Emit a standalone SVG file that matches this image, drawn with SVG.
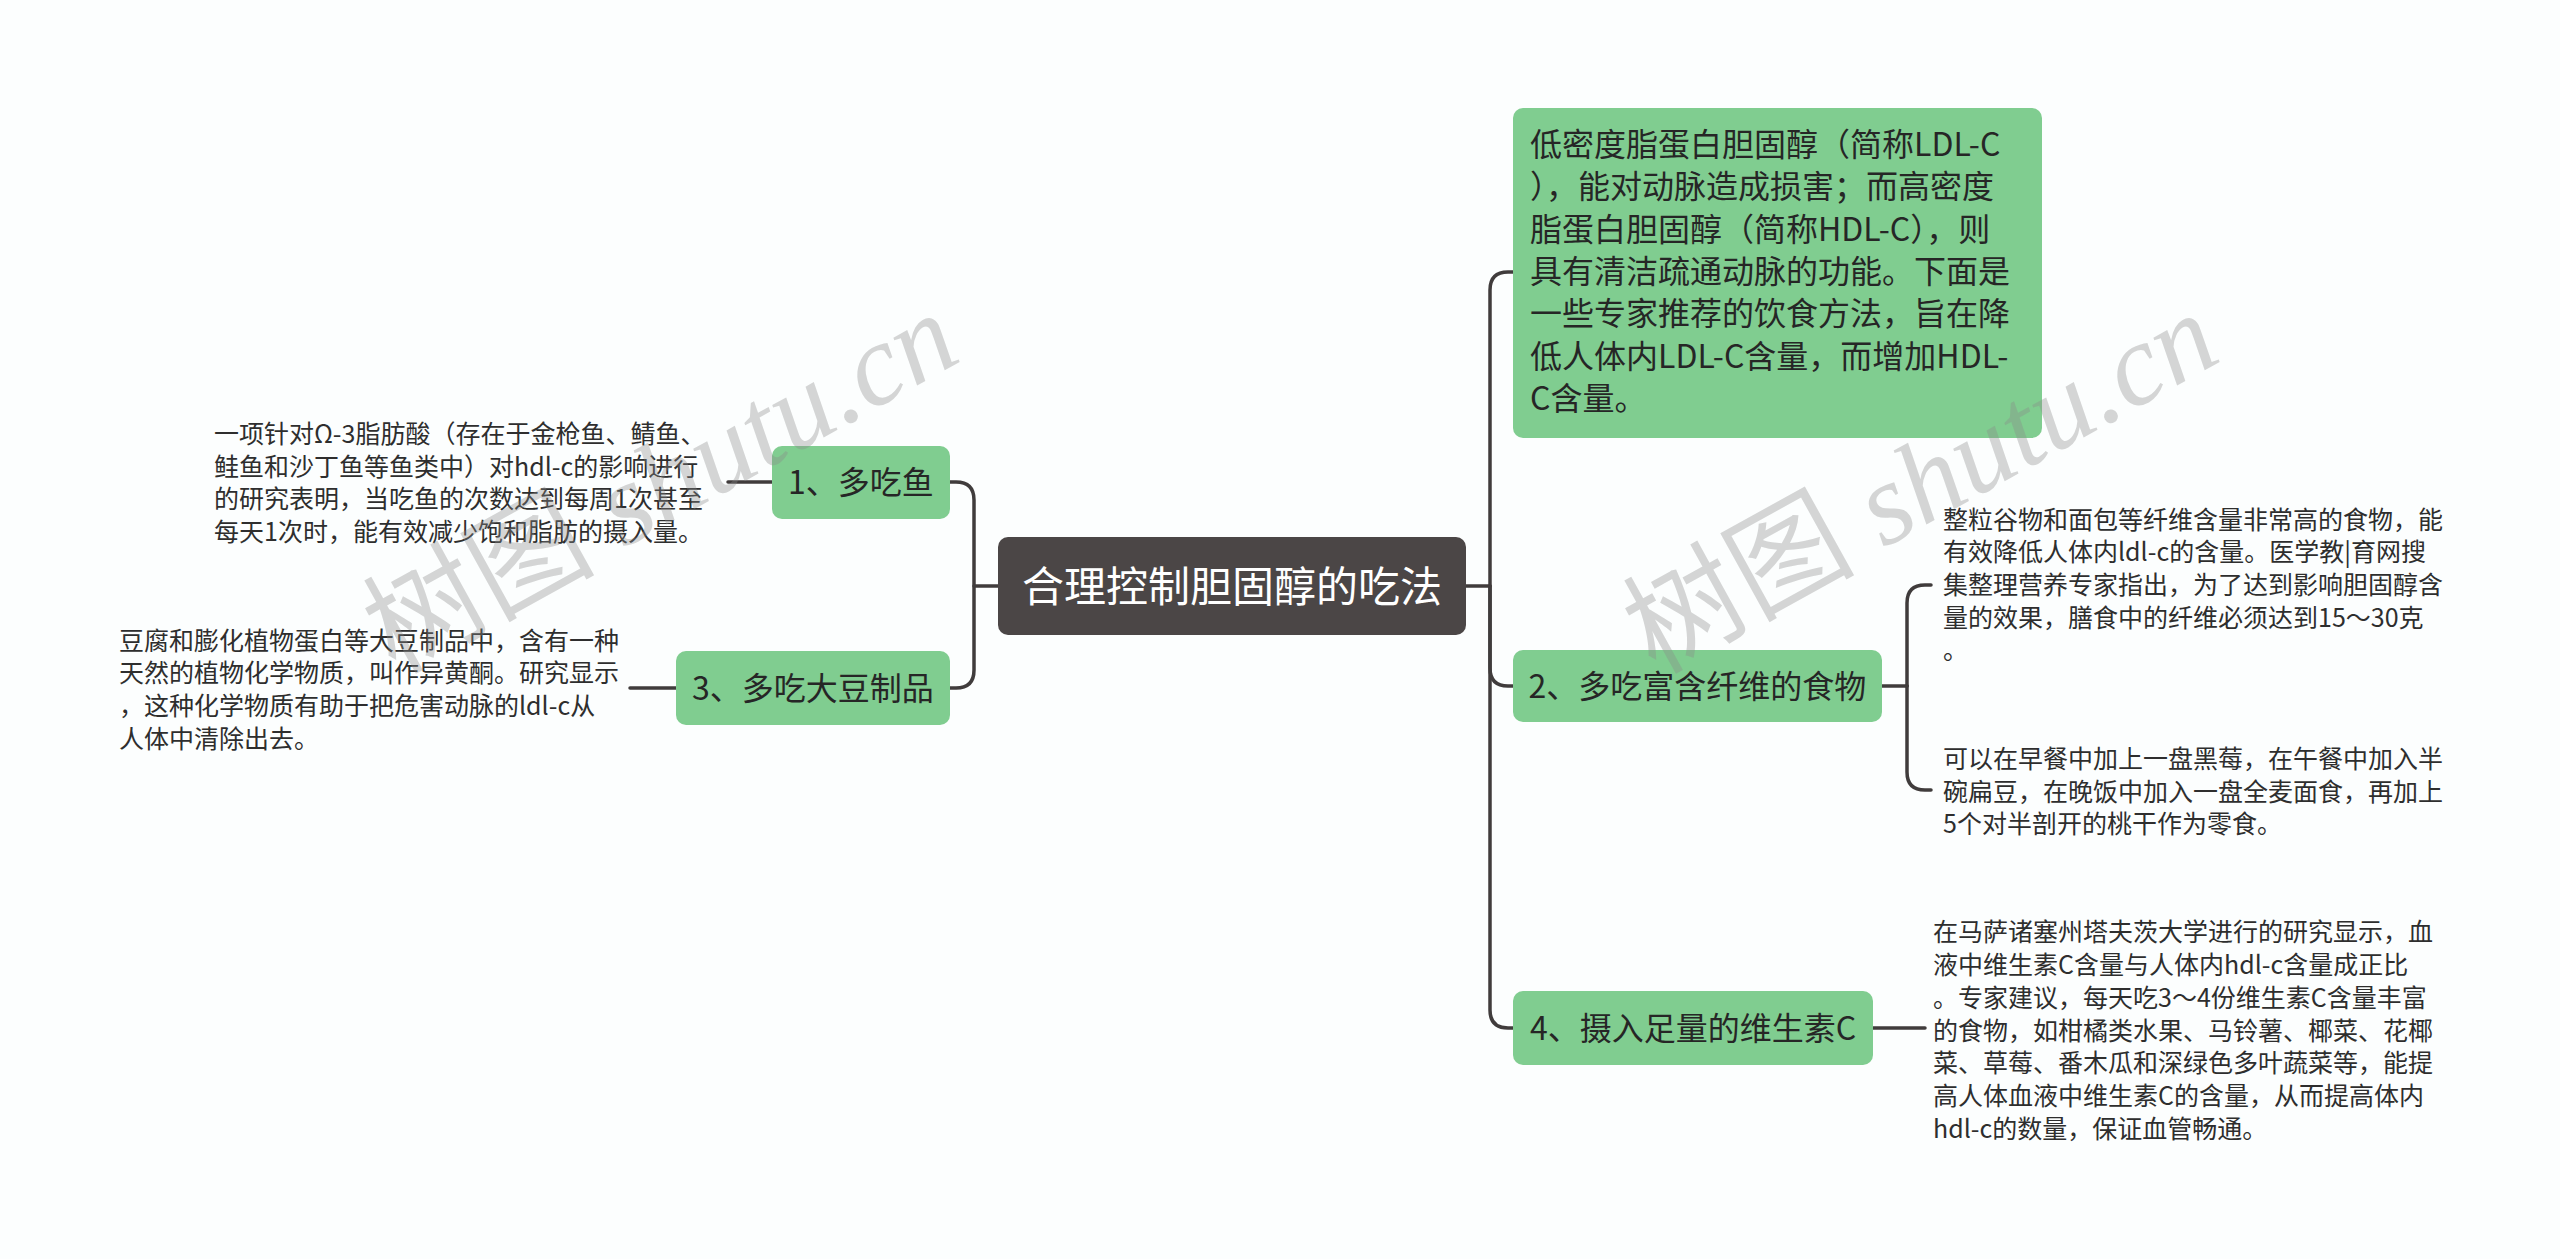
<svg xmlns="http://www.w3.org/2000/svg" width="2560" height="1259" viewBox="0 0 2560 1259">
<style>
.bg{fill:#fcfefe}
.root{fill:#4b4646}
.n1{fill:#80cd90}
.rt{font-family:"Noto Sans CJK SC","Liberation Sans",sans-serif;font-size:42px;fill:#ffffff}
.t1{font-family:"Noto Sans CJK SC","Liberation Sans",sans-serif;font-size:32px;fill:#262626}
.lf{font-family:"Noto Sans CJK SC","Liberation Sans",sans-serif;font-size:25px;fill:#2e2e2e}
.c{fill:none;stroke:#403c3c;stroke-width:3.5;stroke-linecap:round}
.wm{font-size:116px;fill:#8a8a8a;fill-opacity:0.35}
.wc{font-family:"Noto Sans CJK SC",sans-serif}
.wl{font-family:"Liberation Serif",serif;font-style:italic}
</style>
<rect class="bg" x="0" y="0" width="2560" height="1259"/>
<g id="connectors">
<path class="c" d="M998 586H974"/>
<path class="c" d="M950 482H956Q974 482 974 500V670Q974 688 956 688H950"/>
<path class="c" d="M772 482H728"/>
<path class="c" d="M676 688H630"/>
<path class="c" d="M1466 586H1490"/>
<path class="c" d="M1513 272H1508Q1490 272 1490 290V1010Q1490 1028 1508 1028H1513"/>
<path class="c" d="M1490 586V668Q1490 686 1508 686H1513"/>
<path class="c" d="M1882 686H1907"/>
<path class="c" d="M1907 686V603Q1907 585 1925 585H1931"/>
<path class="c" d="M1907 686V772Q1907 790 1925 790H1931"/>
<path class="c" d="M1873 1028H1925"/>
</g>
<g id="root">
<rect class="root" x="998" y="537" width="468" height="98" rx="10"/>
<text class="rt" x="1232" y="602" text-anchor="middle">合理控制胆固醇的吃法</text>
</g>
<g id="intro">
<rect class="n1" x="1513" y="108" width="529" height="330" rx="10"/>
<text class="t1" x="1530" y="156">低密度脂蛋白胆固醇（简称LDL-C</text>
<text class="t1" x="1530" y="198.3">），能对动脉造成损害；而高密度</text>
<text class="t1" x="1530" y="240.6">脂蛋白胆固醇（简称HDL-C），则</text>
<text class="t1" x="1530" y="282.9">具有清洁疏通动脉的功能。下面是</text>
<text class="t1" x="1530" y="325.2">一些专家推荐的饮食方法，旨在降</text>
<text class="t1" x="1530" y="367.5">低人体内LDL-C含量，而增加HDL-</text>
<text class="t1" x="1530" y="409.8">C含量。</text>
</g>
<g id="node1">
<rect class="n1" x="772" y="446" width="178" height="73" rx="10"/>
<text class="t1" x="861" y="494" text-anchor="middle">1、多吃鱼</text>
</g>
<g id="leaf1">
<text class="lf" x="214" y="443">一项针对Ω-3脂肪酸（存在于金枪鱼、鲭鱼、</text>
<text class="lf" x="214" y="475.7">鲑鱼和沙丁鱼等鱼类中）对hdl-c的影响进行</text>
<text class="lf" x="214" y="508.4">的研究表明，当吃鱼的次数达到每周1次甚至</text>
<text class="lf" x="214" y="541.1">每天1次时，能有效减少饱和脂肪的摄入量。</text>
</g>
<g id="node3">
<rect class="n1" x="676" y="651" width="274" height="74" rx="10"/>
<text class="t1" x="813" y="700" text-anchor="middle">3、多吃大豆制品</text>
</g>
<g id="leaf3">
<text class="lf" x="119" y="649.5">豆腐和膨化植物蛋白等大豆制品中，含有一种</text>
<text class="lf" x="119" y="682.2">天然的植物化学物质，叫作异黄酮。研究显示</text>
<text class="lf" x="119" y="714.9">，这种化学物质有助于把危害动脉的ldl-c从</text>
<text class="lf" x="119" y="747.6">人体中清除出去。</text>
</g>
<g id="node2">
<rect class="n1" x="1513" y="650" width="369" height="72" rx="10"/>
<text class="t1" x="1697.5" y="698" text-anchor="middle">2、多吃富含纤维的食物</text>
</g>
<g id="leaf2a">
<text class="lf" x="1943" y="528.6">整粒谷物和面包等纤维含量非常高的食物，能</text>
<text class="lf" x="1943" y="561.3">有效降低人体内ldl-c的含量。医学教|育网搜</text>
<text class="lf" x="1943" y="594">集整理营养专家指出，为了达到影响胆固醇含</text>
<text class="lf" x="1943" y="626.7">量的效果，膳食中的纤维必须达到15～30克</text>
<text class="lf" x="1943" y="659.4">。</text>
</g>
<g id="leaf2b">
<text class="lf" x="1943" y="767.8">可以在早餐中加上一盘黑莓，在午餐中加入半</text>
<text class="lf" x="1943" y="800.5">碗扁豆，在晚饭中加入一盘全麦面食，再加上</text>
<text class="lf" x="1943" y="833.2">5个对半剖开的桃干作为零食。</text>
</g>
<g id="node4">
<rect class="n1" x="1513" y="991" width="360" height="74" rx="10"/>
<text class="t1" x="1693" y="1040" text-anchor="middle">4、摄入足量的维生素C</text>
</g>
<g id="leaf4">
<text class="lf" x="1933" y="941.4">在马萨诸塞州塔夫茨大学进行的研究显示，血</text>
<text class="lf" x="1933" y="974.1">液中维生素C含量与人体内hdl-c含量成正比</text>
<text class="lf" x="1933" y="1006.8">。专家建议，每天吃3～4份维生素C含量丰富</text>
<text class="lf" x="1933" y="1039.5">的食物，如柑橘类水果、马铃薯、椰菜、花椰</text>
<text class="lf" x="1933" y="1072.2">菜、草莓、番木瓜和深绿色多叶蔬菜等，能提</text>
<text class="lf" x="1933" y="1104.9">高人体血液中维生素C的含量，从而提高体内</text>
<text class="lf" x="1933" y="1137.6">hdl-c的数量，保证血管畅通。</text>
</g>
<g id="watermarks">
<text class="wm" transform="translate(395,675) rotate(-29)"><tspan class="wc">树图</tspan><tspan class="wl"> shutu.cn</tspan></text>
<text class="wm" transform="translate(1655,675) rotate(-29)"><tspan class="wc">树图</tspan><tspan class="wl"> shutu.cn</tspan></text>
</g>
</svg>
